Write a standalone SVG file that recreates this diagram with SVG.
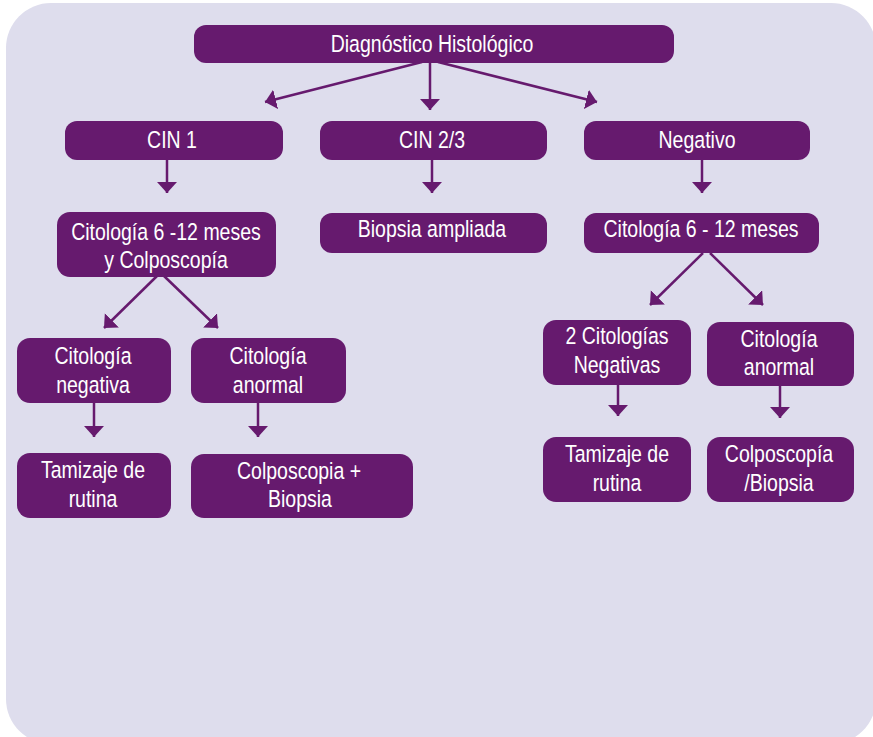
<svg xmlns="http://www.w3.org/2000/svg" width="873" height="737" viewBox="0 0 873 737">
  <style>
    .box { fill: #661a6e; }
    .lbl { fill: #ffffff; font-family: "Liberation Sans", Arial, sans-serif; font-size: 23.5px; text-anchor: middle; }
    .con { stroke: #661a6e; stroke-width: 2.5; fill: none; marker-end: url(#head); }
  </style>
  <defs>
    <marker id="head" viewBox="0 0 11 20" refX="11" refY="10" markerWidth="11" markerHeight="20" markerUnits="userSpaceOnUse" orient="auto">
      <path d="M0,0 L11,10 L0,20 Z" fill="#661a6e"/>
    </marker>
  </defs>

  <!-- background panel -->
  <rect x="0" y="0" width="873" height="737" fill="#ffffff"/>
  <rect x="6" y="3" width="870" height="741" rx="45" ry="45" fill="#dedded"/>

  <!-- connectors -->
  <g id="connectors">
    <line class="con" x1="422" y1="62" x2="265" y2="102"/>
    <line class="con" x1="430" y1="62" x2="430" y2="110"/>
    <line class="con" x1="438" y1="62" x2="597" y2="102"/>
    <line class="con" x1="167" y1="160" x2="167" y2="193"/>
    <line class="con" x1="432" y1="160" x2="432" y2="193"/>
    <line class="con" x1="702" y1="160" x2="702" y2="193"/>
    <line class="con" x1="157" y1="276" x2="104" y2="328"/>
    <line class="con" x1="164" y1="276" x2="218" y2="328"/>
    <line class="con" x1="94" y1="403" x2="94" y2="437"/>
    <line class="con" x1="258" y1="403" x2="258" y2="437"/>
    <line class="con" x1="703" y1="253" x2="650" y2="305"/>
    <line class="con" x1="710" y1="253" x2="763" y2="305"/>
    <line class="con" x1="618" y1="385" x2="618" y2="416"/>
    <line class="con" x1="780" y1="386" x2="780" y2="418"/>
  </g>

  <!-- nodes (labels set in a condensed width) -->
  <g id="diagnostico">
    <rect class="box" x="194" y="25" width="480" height="38" rx="12"/>
    <text class="lbl" transform="translate(432 52) scale(0.83 1)">Diagnóstico Histológico</text>
  </g>
  <g id="cin1">
    <rect class="box" x="65" y="121" width="218" height="39" rx="12"/>
    <text class="lbl" transform="translate(172 148) scale(0.83 1)">CIN 1</text>
  </g>
  <g id="cin23">
    <rect class="box" x="320" y="121" width="227" height="39" rx="12"/>
    <text class="lbl" transform="translate(432 148) scale(0.83 1)">CIN 2/3</text>
  </g>
  <g id="negativo">
    <rect class="box" x="584" y="121" width="226" height="39" rx="12"/>
    <text class="lbl" transform="translate(697 148) scale(0.83 1)">Negativo</text>
  </g>
  <g id="citologia-colposcopia">
    <rect class="box" x="57" y="212" width="219" height="65" rx="13"/>
    <text class="lbl" transform="translate(166 240) scale(0.83 1)">Citología 6 -12 meses</text>
    <text class="lbl" transform="translate(166 268) scale(0.83 1)">y Colposcopía</text>
  </g>
  <g id="biopsia-ampliada">
    <rect class="box" x="320" y="213" width="227" height="40" rx="12"/>
    <text class="lbl" transform="translate(432 237) scale(0.83 1)">Biopsia ampliada</text>
  </g>
  <g id="citologia-6-12">
    <rect class="box" x="584" y="213" width="235" height="40" rx="12"/>
    <text class="lbl" transform="translate(701 237) scale(0.83 1)">Citología 6 - 12 meses</text>
  </g>
  <g id="citologia-negativa">
    <rect class="box" x="17" y="338" width="154" height="65" rx="13"/>
    <text class="lbl" transform="translate(93 364) scale(0.83 1)">Citología</text>
    <text class="lbl" transform="translate(93 393) scale(0.83 1)">negativa</text>
  </g>
  <g id="citologia-anormal-1">
    <rect class="box" x="191" y="338" width="155" height="65" rx="13"/>
    <text class="lbl" transform="translate(268 364) scale(0.83 1)">Citología</text>
    <text class="lbl" transform="translate(268 393) scale(0.83 1)">anormal</text>
  </g>
  <g id="tamizaje-1">
    <rect class="box" x="17" y="453" width="154" height="65" rx="13"/>
    <text class="lbl" transform="translate(93 478) scale(0.83 1)">Tamizaje de</text>
    <text class="lbl" transform="translate(93 507) scale(0.83 1)">rutina</text>
  </g>
  <g id="colposcopia-biopsia">
    <rect class="box" x="191" y="454" width="222" height="64" rx="13"/>
    <text class="lbl" transform="translate(299 479) scale(0.83 1)">Colposcopia +</text>
    <text class="lbl" transform="translate(300 507) scale(0.83 1)">Biopsia</text>
  </g>
  <g id="dos-citologias">
    <rect class="box" x="543" y="320" width="148" height="65" rx="13"/>
    <text class="lbl" transform="translate(617 344) scale(0.83 1)">2 Citologías</text>
    <text class="lbl" transform="translate(617 373) scale(0.83 1)">Negativas</text>
  </g>
  <g id="citologia-anormal-2">
    <rect class="box" x="707" y="322" width="147" height="64" rx="13"/>
    <text class="lbl" transform="translate(779 347) scale(0.83 1)">Citología</text>
    <text class="lbl" transform="translate(779 375) scale(0.83 1)">anormal</text>
  </g>
  <g id="tamizaje-2">
    <rect class="box" x="543" y="437" width="148" height="65" rx="13"/>
    <text class="lbl" transform="translate(617 462) scale(0.83 1)">Tamizaje de</text>
    <text class="lbl" transform="translate(617 491) scale(0.83 1)">rutina</text>
  </g>
  <g id="colposcopia-biopsia-2">
    <rect class="box" x="707" y="437" width="147" height="65" rx="13"/>
    <text class="lbl" transform="translate(779 462) scale(0.83 1)">Colposcopía</text>
    <text class="lbl" transform="translate(779 491) scale(0.83 1)">/Biopsia</text>
  </g>
</svg>
